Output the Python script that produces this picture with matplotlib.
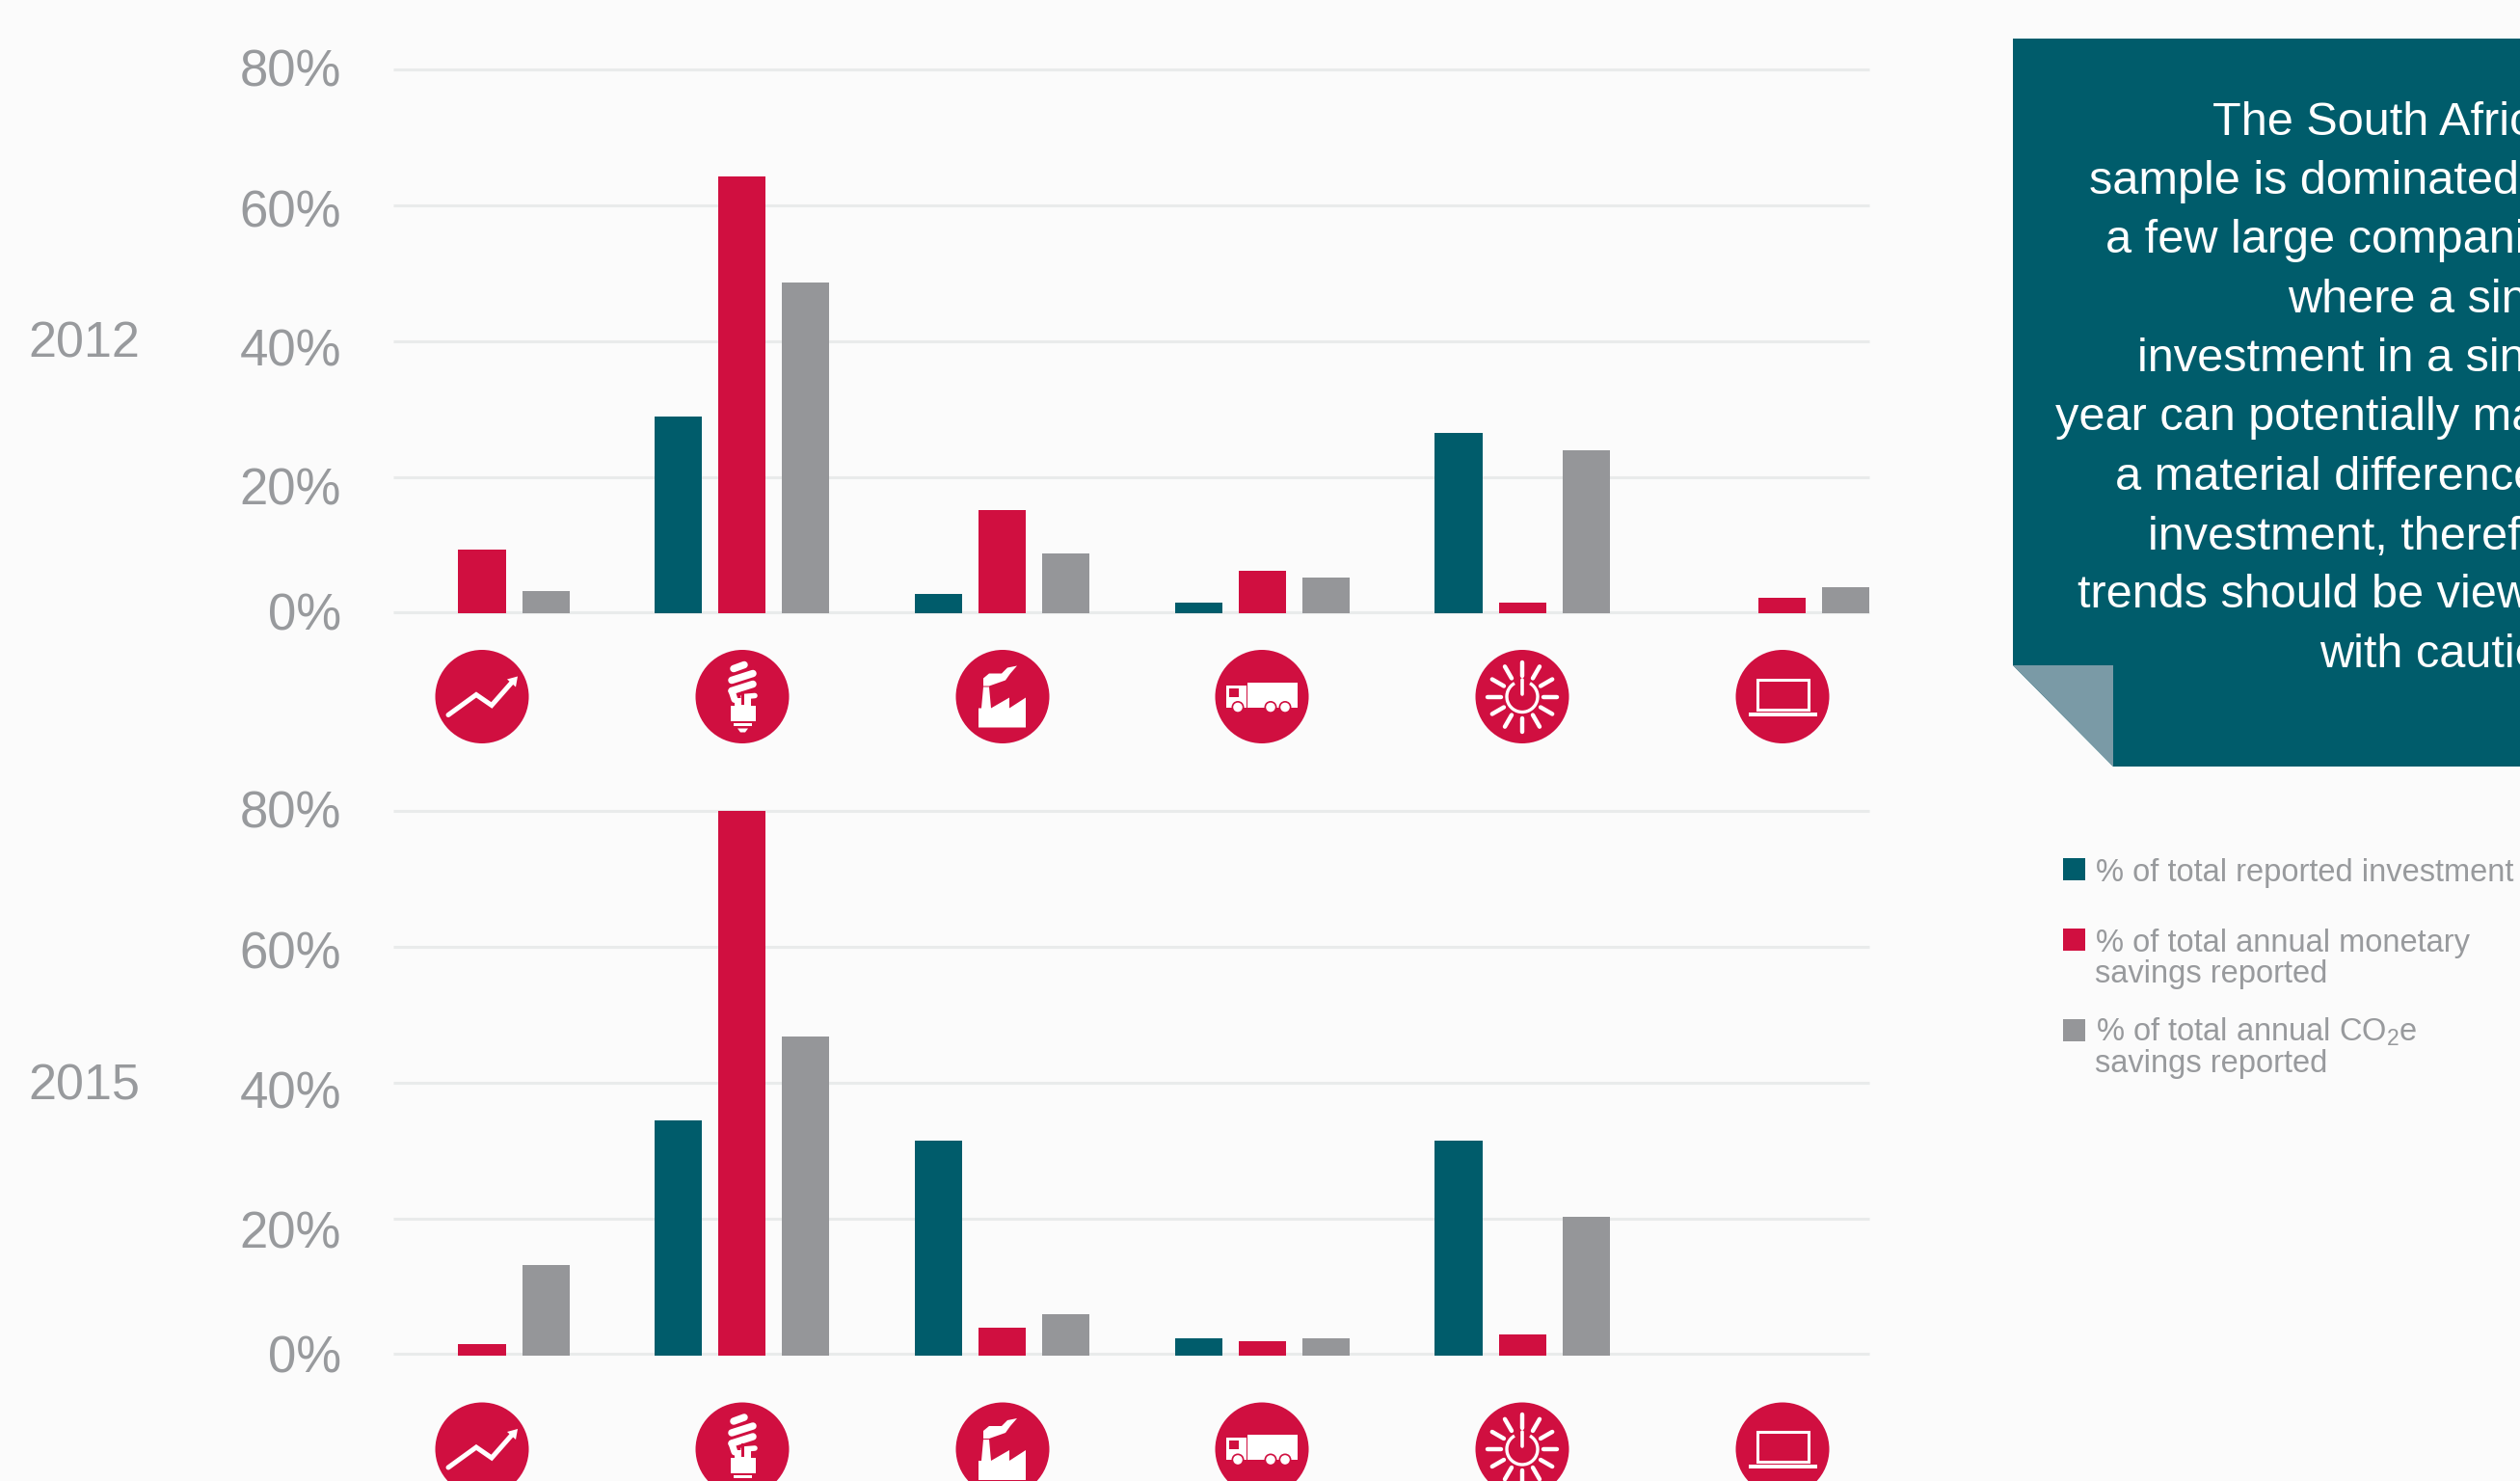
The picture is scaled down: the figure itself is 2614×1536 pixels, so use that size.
import matplotlib
matplotlib.use('Agg')
import matplotlib.pyplot as plt
import numpy as np
from matplotlib.patches import Circle, Polygon, Rectangle, Arc

W, H = 2614, 1536
TEAL = '#005c6b'
RED = '#d00f40'
GREY = '#959699'
TEXT = '#989a9d'
GRID = '#e9ebeb'
BG = '#fbfbfb'
FOLD = '#7a9aa6'

plt.rcParams['font.family'] = ['Liberation Sans', 'DejaVu Sans']
plt.rcParams['mathtext.default'] = 'regular'

groups = np.arange(6)
invest_2012 = [0, 29, 2.8, 1.6, 26.5, 0]
money_2012 = [9.3, 64.2, 15.2, 6.3, 1.6, 2.2]
co2_2012 = [3.3, 48.6, 8.8, 5.2, 24, 3.9]
invest_2015 = [0, 34.5, 31.5, 2.5, 31.5, 0]
money_2015 = [1.6, 80, 4, 2.1, 3, 0]
co2_2015 = [13.3, 46.8, 6, 2.5, 20.3, 0]
y_ticks = [0, 20, 40, 60, 80]
y_labels = ['0%', '20%', '40%', '60%', '80%']
label_shift = [3, 15, 11, 8, 3]

panel_lines = ['The South African', 'sample is dominated by', 'a few large companies', 'where a single',
               'investment in a single', 'year can potentially make', 'a material difference to',
               'investment, therefore', 'trends should be viewed', 'with caution.']
panel_left = [2295, 2167, 2184, 2373, 2217, 2132, 2194, 2228, 2155, 2406]
panel_base = [140, 201, 262, 324, 385, 446, 508, 570, 630, 692]

fig = plt.figure(figsize=(W / 100, H / 100), dpi=100, facecolor=BG)

# overlay in pixel coordinates for panel, icons and legend
ov = fig.add_axes([0, 0, 1, 1], zorder=5)
ov.set_xlim(0, W)
ov.set_ylim(H, 0)
ov.axis('off')
ov.patch.set_alpha(0)


def bars(top, bottom, invest, money, co2, lab_dy=0):
    ax = fig.add_axes([408 / W, 1 - bottom / H, (1939 - 408) / W, (bottom - top) / H])
    ax.set_facecolor('none')
    ax.set_xlim(-0.341, 5.334)
    ax.set_ylim(0, 80)
    for t in y_ticks:
        # the zero rule sits a little above the foot of the bars
        ax.axhline(t + (0.2 if t == 0 else 0), color=GRID, lw=2.2, zorder=1, clip_on=False, solid_capstyle='butt')
    ax.bar(groups - 0.245, invest, 0.182, color=TEAL, zorder=2)
    ax.bar(groups, money, 0.182, color=RED, zorder=2)
    ax.bar(groups + 0.245, co2, 0.182, color=GREY, zorder=2)
    for s in ax.spines.values():
        s.set_visible(False)
    ax.set_xticks([])
    ax.set_yticks([])
    for t, lab, sh in zip(y_ticks, y_labels, label_shift):
        ov.text(354, top + (80 - t) * (bottom - top) / 80 + sh + lab_dy, lab, ha='right', va='center',
                fontsize=38, color=TEXT)
    return ax


bars(72, 636, invest_2012, money_2012, co2_2012)
bars(840.5, 1405.5, invest_2015, money_2015, co2_2015, 1)

ov.text(29, 357, '2012', fontsize=37.5, color=TEXT, va='center')
ov.text(29, 1127, '2015', fontsize=37.5, color=TEXT, va='center')


def wline(pts, cx, cy, lw=3.0, cap='round'):
    pts = np.array(pts, dtype=float)
    ov.plot(pts[:, 0] + cx, pts[:, 1] + cy, color='white', lw=lw, solid_capstyle=cap, solid_joinstyle='miter', zorder=4)


def wpoly(pts, cx, cy, color='white', z=4):
    ov.add_patch(Polygon(np.array(pts, dtype=float) + [cx, cy], closed=True, fc=color, ec='none', zorder=z))


def wrect(x0, y0, x1, y1, cx, cy, color='white', z=4):
    ov.add_patch(Rectangle((cx + x0, cy + y0), x1 - x0, y1 - y0, fc=color, ec='none', zorder=z))


def icon_trend(cx, cy):
    wline([(-35, 19), (-6, -2), (10, 9), (32, -16)], cx, cy, 3.6)
    wpoly([(26, -18), (37, -21), (35, -10)], cx, cy)


def icon_bulb(cx, cy):
    wline([(-9, -29), (2, -33)], cx, cy, 5.4)
    wline([(-11, -17), (11, -24)], cx, cy, 5.4)
    wline([(-11, -6), (11, -13)], cx, cy, 5.4)
    wline([(-11, -6), (-8, 3)], cx, cy, 5)
    wline([(1, 0), (13, -1)], cx, cy, 4)
    wrect(-8, 1, 9, 10, cx, cy)
    wrect(-1, -6, 1.5, 8, cx, cy, RED, 5)
    wrect(-12, 9, 14, 25, cx, cy)
    wrect(-9, 27, 10, 30, cx, cy)
    wpoly([(-5, 33), (6, 33), (3, 37), (-2, 37)], cx, cy)


def icon_factory(cx, cy):
    wpoly([(-25, 32), (-25, 12), (-22, 12), (-20, -10), (-14, -10), (-12, 12), (7, 1), (7, 12), (24, 1), (24, 32)], cx, cy)
    wpoly([(-20, -11), (-20, -19), (-14, -24), (-1, -24), (5, -30), (15, -32), (8, -24), (3, -17), (-14, -11)], cx, cy)


def icon_truck(cx, cy):
    wrect(-37, -12, -16, 11, cx, cy)
    wrect(-15, -15, 37, 11, cx, cy)
    wrect(-34, -9, -24, 0, cx, cy, RED, 5)
    for wx in (-25, 9, 24):
        ov.add_patch(Circle((cx + wx, cy + 11), 6.5, fc=RED, ec='none', zorder=5))
        ov.add_patch(Circle((cx + wx, cy + 11), 4.8, fc='white', ec='none', zorder=6))


def icon_power(cx, cy):
    for a in np.arange(0, 360, 30):
        c, s = np.cos(np.radians(a)), np.sin(np.radians(a))
        wline([(22 * c, 22 * s), (36 * c, 36 * s)], cx, cy, 3.2)
    ov.add_patch(Arc((cx, cy), 32, 32, theta1=-60, theta2=240, ec='white', lw=2.4, zorder=4))
    wline([(0, -18), (0, -3)], cx, cy, 2.6)


def icon_laptop(cx, cy):
    ov.add_patch(Rectangle((cx - 26, cy - 18), 53, 31, fc='none', ec='white', lw=2.2, zorder=4))
    wrect(-35, 16, 36, 20, cx, cy)


icons = [icon_trend, icon_bulb, icon_factory, icon_truck, icon_power, icon_laptop]
icon_x = [500, 770, 1040, 1309, 1579, 1849]
for cy in (722.5, 1503):
    for fn, cx in zip(icons, icon_x):
        ov.add_patch(Circle((cx, cy), 48.5, fc=RED, ec='none', zorder=3))
        fn(cx, cy)

# folded note panel
ov.add_patch(Rectangle((2088, 40), W - 2088, 755, fc=TEAL, ec='none', zorder=1))
ov.add_patch(Polygon([(2088, 690), (2192, 795), (2088, 795)], closed=True, fc=BG, ec='none', zorder=2))
ov.add_patch(Polygon([(2088, 690), (2192, 690), (2192, 795)], closed=True, fc=FOLD, ec='none', zorder=2))
for line, lx, ly in zip(panel_lines, panel_left, panel_base):
    ov.text(lx, ly, line, fontsize=35, color='white', va='baseline', ha='left', zorder=3, clip_on=True)

# legend
ov.add_patch(Rectangle((2140, 890), 23, 23, fc=TEAL, ec='none'))
ov.add_patch(Rectangle((2140, 963), 23, 23, fc=RED, ec='none'))
ov.add_patch(Rectangle((2140, 1057), 23, 23, fc=GREY, ec='none'))
LEG = 23.5
ov.text(2174, 914, '% of total reported investment', fontsize=LEG, color=TEXT, va='baseline')
ov.text(2174, 987, '% of total annual monetary', fontsize=LEG, color=TEXT, va='baseline')
ov.text(2173, 1019, 'savings reported', fontsize=LEG, color=TEXT, va='baseline')
ov.text(2174, 1080, '% of total annual CO$_2$e', fontsize=LEG, color=TEXT, va='baseline')
ov.text(2173, 1112, 'savings reported', fontsize=LEG, color=TEXT, va='baseline')

fig.savefig('out.png', dpi=100, facecolor=BG)
